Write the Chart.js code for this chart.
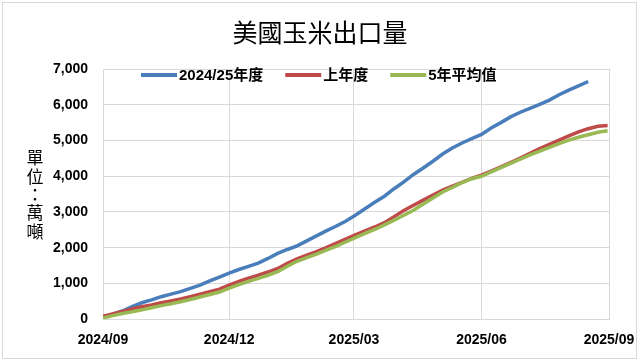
<!DOCTYPE html>
<html>
<head>
<meta charset="utf-8">
<script src="https://cdn.jsdelivr.net/npm/chart.js@4.4.1/dist/chart.umd.min.js"></script>
<style>
body { margin: 0; background: #fff; }
#wrap { width: 640px; height: 363px; }
</style>
</head>
<body>
<div id="wrap"><canvas id="lineChart"></canvas></div>
<script>
// days since 2024/09/01, weekly
const weekDays = [0,7,14,21,28,35,42,49,56,63,70,77,84,91,98,105,112,119,126,133,140,147,154,161,168,175,182,189,196,203,210,217,224,231,238,245,252,259,266,273,280,287,294,301,308,315,322,329,336,343,350,357,364];

const thisYear = [60,140,230,350,460,540,630,700,770,860,955,1070,1180,1290,1390,1480,1570,1700,1840,1950,2050,2190,2330,2470,2600,2740,2910,3090,3270,3440,3650,3840,4050,4230,4420,4620,4790,4930,5050,5170,5350,5500,5660,5790,5900,6010,6130,6280,6410,6530,6650];
const lastYear = [80,150,220,290,350,400,460,510,565,630,700,770,840,950,1060,1150,1230,1320,1420,1560,1690,1790,1890,2000,2120,2240,2360,2470,2580,2700,2870,3040,3190,3330,3470,3610,3720,3830,3940,4030,4140,4260,4380,4510,4640,4770,4890,5010,5130,5240,5330,5400,5420];
const fiveYearAvg = [30,100,160,210,260,320,380,430,490,550,620,690,760,870,970,1060,1140,1230,1330,1480,1620,1720,1820,1930,2040,2160,2280,2400,2510,2640,2770,2910,3050,3220,3390,3560,3690,3820,3930,4000,4120,4240,4360,4480,4600,4700,4810,4910,5010,5090,5160,5230,5270];

const seriesNames = ['2024/25年度', '上年度', '5年平均值'];
const tickDays = [0, 91, 181, 273, 365];
const tickLabels = ['2024/09', '2024/12', '2025/03', '2025/06', '2025/09'];
const unitChars = ['單', '位', '：', '萬', '噸'];

function toPoints(vals) {
    return vals.map((v, i) => ({ x: weekDays[i], y: v }));
}

const latin = '"Liberation Sans", "Noto Sans CJK TC", sans-serif';

const extras = {
    id: 'extras',
    afterDraw(chart) {
        const c = chart.ctx;
        c.save();
        c.strokeStyle = '#d9d9d9';
        c.lineWidth = 1;
        c.strokeRect(2.5, 2.5, 634, 356);

        c.fillStyle = '#000';
        c.font = '17px "Noto Sans CJK TC"';
        c.textAlign = 'center';
        c.textBaseline = 'middle';
        unitChars.forEach((ch, i) => c.fillText(ch, 35, 158 + i * 18.3));

        // legend
        let x = 141;
        const y = 75;
        c.font = 'bold 15px ' + latin;
        c.textAlign = 'left';
        chart.data.datasets.forEach(ds => {
            c.strokeStyle = ds.borderColor;
            c.lineWidth = 4;
            c.beginPath();
            c.moveTo(x, y);
            c.lineTo(x + 36, y);
            c.stroke();
            x += 38;
            c.fillText(ds.label, x, y + 1);
            x += c.measureText(ds.label).width + 22;
        });
        c.restore();
    }
};

const ctx = document.getElementById('lineChart');

new Chart(ctx, {
    type: 'line',
    data: {
        datasets: [
            { label: seriesNames[0], data: toPoints(thisYear), borderColor: '#4a7ebb', order: 2 },
            { label: seriesNames[1], data: toPoints(lastYear), borderColor: '#be4b48', order: 1 },
            { label: seriesNames[2], data: toPoints(fiveYearAvg), borderColor: '#98b954', order: 0 }
        ]
    },
    options: {
        responsive: true,
        maintainAspectRatio: false,
        animation: false,
        layout: { padding: { top: 4, left: 31, right: 31, bottom: 1 } },
        elements: {
            line: { borderWidth: 3.5, tension: 0 },
            point: { radius: 0 }
        },
        plugins: {
            legend: { display: false },
            tooltip: { enabled: false },
            title: {
                display: true,
                text: '美國玉米出口量',
                color: '#000',
                font: { family: '"Noto Sans CJK TC"', size: 25, weight: 'normal' },
                padding: { top: 13, bottom: 22 }
            }
        },
        scales: {
            x: {
                type: 'linear',
                min: 0,
                max: 365,
                afterBuildTicks: (axis) => { axis.ticks = tickDays.map(v => ({ value: v })); },
                afterFit: (axis) => { axis.paddingLeft = 0; axis.paddingRight = 0; },
                grid: { color: '#d9d9d9', drawTicks: false },
                border: { color: '#d9d9d9' },
                ticks: {
                    padding: 13,
                    color: '#000',
                    maxRotation: 0,
                    font: { family: latin, size: 14, weight: 'bold' },
                    callback: (v) => tickLabels[tickDays.indexOf(v)]
                }
            },
            y: {
                min: 0,
                max: 7000,
                afterFit: (axis) => { axis.width = 72; },
                grid: { color: '#d9d9d9', drawTicks: false },
                border: { color: '#d9d9d9' },
                ticks: {
                    stepSize: 1000,
                    padding: 15,
                    color: '#000',
                    font: { family: latin, size: 14, weight: 'bold' },
                    callback: (v) => v.toLocaleString('en-US')
                }
            }
        }
    },
    plugins: [extras]
});
</script>
</body>
</html>
